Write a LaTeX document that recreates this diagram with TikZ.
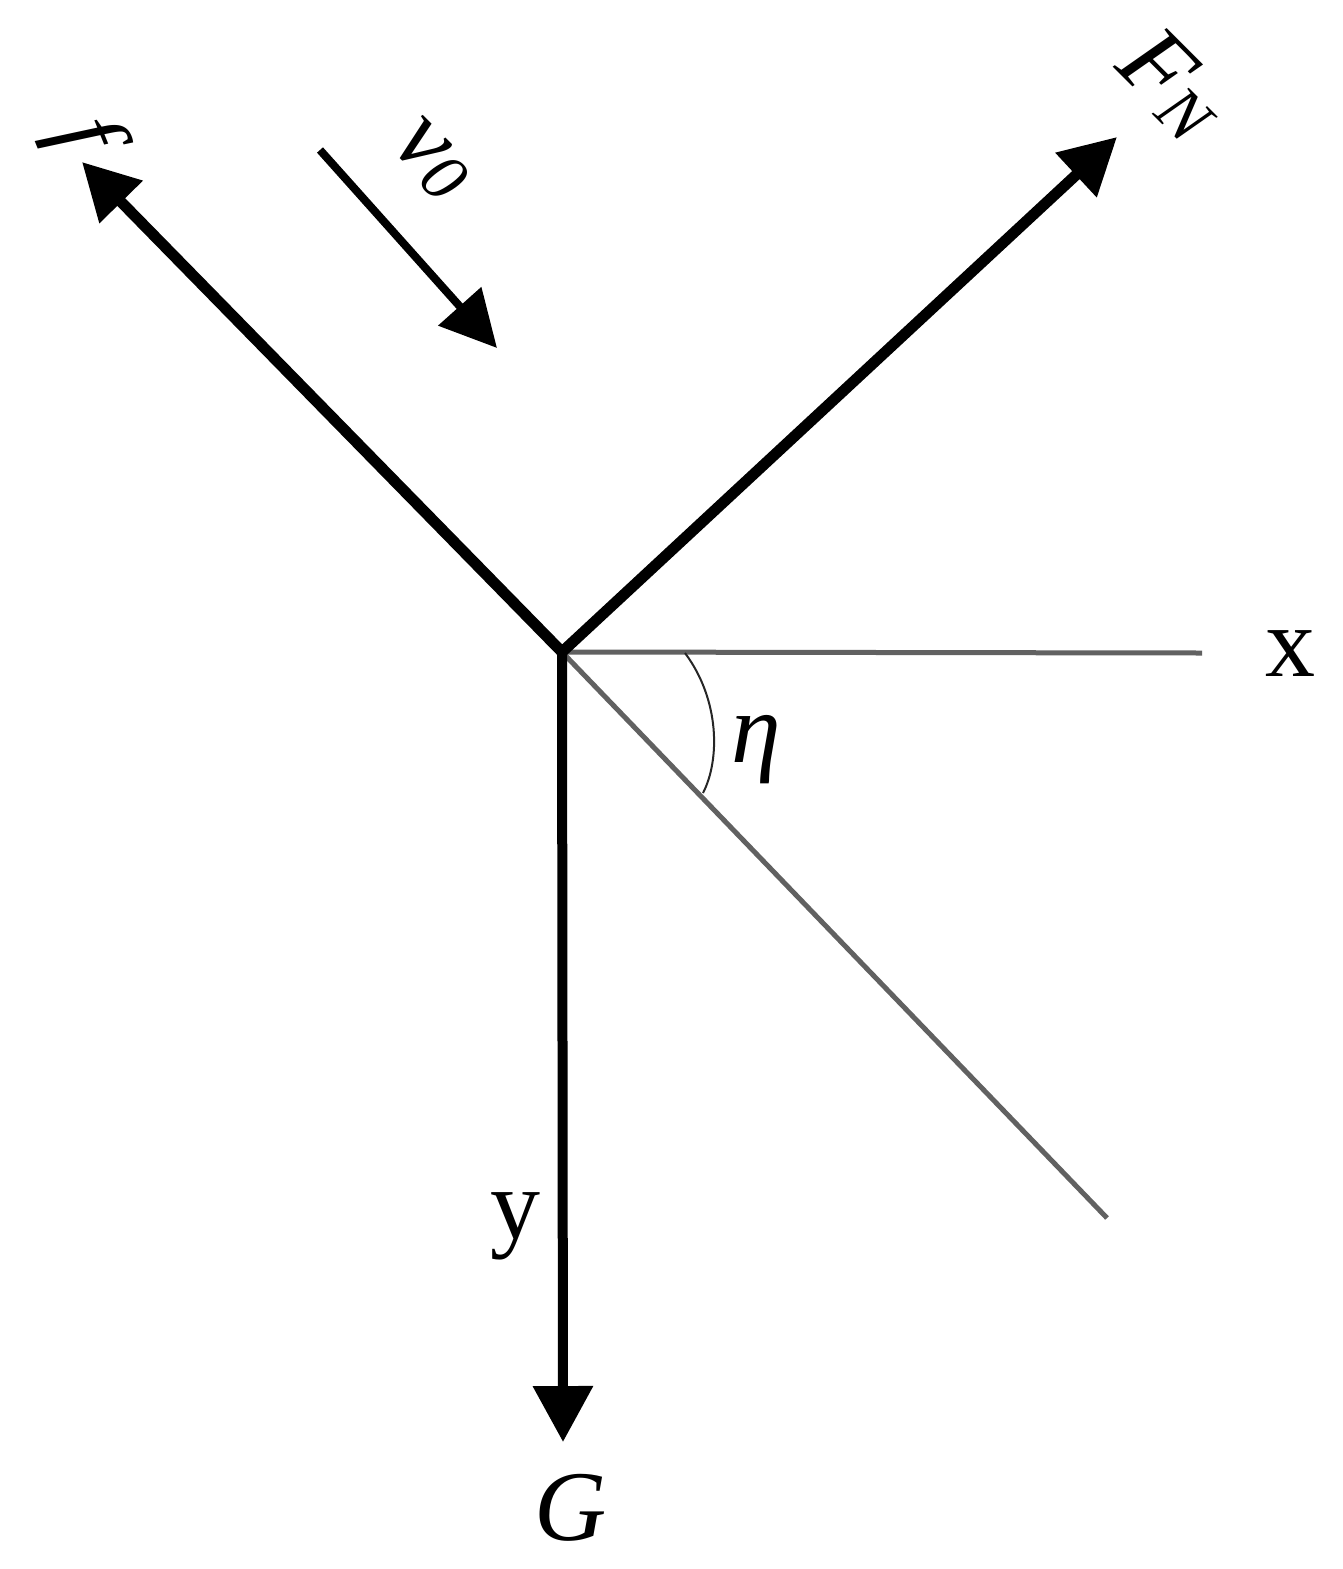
\documentclass[tikz,border=0pt]{standalone}
\usepackage{fontspec}
\setmainfont{Liberation Serif}
\usetikzlibrary{arrows.meta}
\newcommand{\subsz}{\fontsize{68}{68}\selectfont}
\begin{document}
\begin{tikzpicture}[x=1pt,y=-1pt,
  tipstyle/.tip={Triangle[length=56pt,width=58pt]},
  force/.style={line width=11pt,line join=miter,black},
  vel/.style={line width=8pt,black,-{Triangle[length=56pt,width=56pt]}},
  axisline/.style={line width=5pt,black!62},
  arcline/.style={line width=2pt,black!85},
  lbl/.style={inner sep=0pt,font=\fontsize{100}{100}\selectfont}]
\useasboundingbox[fill=white] (0,0) rectangle (1342,1569);
\coordinate (O) at (562,652);
\coordinate (X) at (1202,653);
\coordinate (I) at (1107,1218);
\coordinate (Ftip) at (82,162);
\coordinate (Ntip) at (1117,137);
\coordinate (Gtip) at (563,1442);
\coordinate (vs) at (320,150);
\coordinate (ve) at (497,348);
\coordinate (a1) at (685,653);
\coordinate (a2) at (703,793);
% thin lines
\draw[axisline] (O) -- (X);
\draw[axisline] (O) -- (I);
\draw[arcline] (a1) .. controls (720,700) and (720,760) .. (a2);
% forces
\draw[force,tipstyle-tipstyle] (Ftip) -- (O) -- (Ntip);
\draw[force,line width=10pt,-tipstyle] (O) -- (Gtip);
\draw[vel] (vs) -- (ve);
% labels
\node[lbl] (xl) at (1290,654) {x};
\node[lbl,anchor=base] (yl) at (515,1238) {y};
\node[lbl,anchor=base] (gl) at (571,1540) {\itshape G};
\node[lbl,anchor=base] (el) at (756,762) {\itshape η};
\node[lbl,rotate=-68] (fl) at (82,136) {\itshape f};
\node[lbl,rotate=-45] (vl) at (431,160) {\itshape v\raisebox{-0.06em}{\subsz\itshape 0}};
\node[lbl,rotate=-45] (nl) at (1172,84) {\itshape F\raisebox{-0.06em}{\subsz\itshape N}};
\end{tikzpicture}
\end{document}
